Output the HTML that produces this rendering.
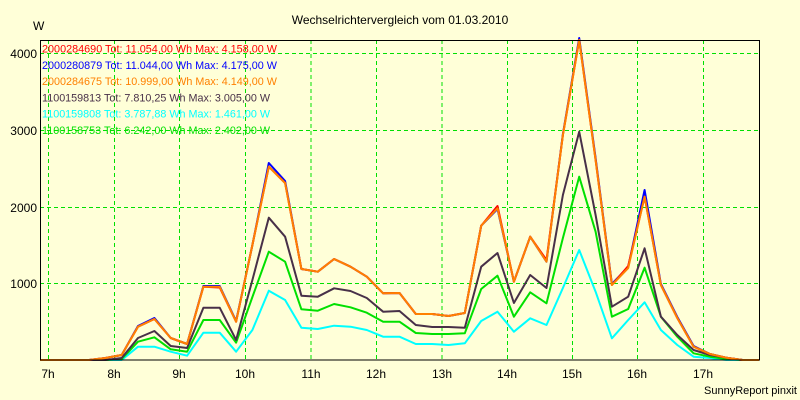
<!DOCTYPE html>
<html><head><meta charset="utf-8"><style>
html,body{margin:0;padding:0;background:#ffffd8;}
svg{display:block;font-family:"Liberation Sans",Arial,sans-serif;}
</style></head><body>
<svg width="800" height="400" viewBox="0 0 800 400" xmlns="http://www.w3.org/2000/svg">
<rect width="800" height="400" fill="#ffffd8"/>
<text x="400" y="24" font-size="12" text-anchor="middle" fill="#000">Wechselrichtervergleich vom 01.03.2010</text>
<text x="33" y="30" font-size="12" fill="#000">W</text>
<g stroke="#00e000" stroke-width="1" stroke-dasharray="4,3" fill="none">
<line x1="40" y1="53.5" x2="759" y2="53.5"/>
<line x1="40" y1="130.5" x2="759" y2="130.5"/>
<line x1="40" y1="207.5" x2="759" y2="207.5"/>
<line x1="40" y1="283.5" x2="759" y2="283.5"/>
<line x1="48.5" y1="40" x2="48.5" y2="360"/>
<line x1="114.5" y1="40" x2="114.5" y2="360"/>
<line x1="179.5" y1="40" x2="179.5" y2="360"/>
<line x1="245.5" y1="40" x2="245.5" y2="360"/>
<line x1="311" y1="40" x2="311" y2="360"/>
<line x1="376.5" y1="40" x2="376.5" y2="360"/>
<line x1="442" y1="40" x2="442" y2="360"/>
<line x1="507.5" y1="40" x2="507.5" y2="360"/>
<line x1="572.5" y1="40" x2="572.5" y2="360"/>
<line x1="637.5" y1="40" x2="637.5" y2="360"/>
<line x1="703.5" y1="40" x2="703.5" y2="360"/>
</g>
<g font-size="12" fill="#000" text-anchor="end">
<text x="37" y="58">4000</text>
<text x="37" y="135">3000</text>
<text x="37" y="212">2000</text>
<text x="37" y="288">1000</text>
</g>
<g font-size="12" fill="#000" text-anchor="middle">
<text x="48" y="378">7h</text>
<text x="114" y="378">8h</text>
<text x="179" y="378">9h</text>
<text x="245" y="378">10h</text>
<text x="311" y="378">11h</text>
<text x="376" y="378">12h</text>
<text x="442" y="378">13h</text>
<text x="507" y="378">14h</text>
<text x="572" y="378">15h</text>
<text x="637" y="378">16h</text>
<text x="703" y="378">17h</text>
</g>
<text x="797" y="394" font-size="11" text-anchor="end" fill="#000">SunnyReport pinxit</text>
<g fill="none" stroke-width="2" stroke-linejoin="round">
<polyline stroke="#00ffff" points="40,360 56.3,360 72.7,360 89,360 105.4,360 121.7,360 138,346.7 154.4,346.7 170.7,351.7 187.1,355.7 203.4,332.7 219.7,332.7 236.1,351.7 252.4,330 268.8,290.7 285.1,300 301.4,327.7 317.8,329 334.1,325.7 350.5,326.7 366.8,330 383.1,336.7 399.5,336.7 415.8,344 432.2,344 448.5,345 464.8,343.3 481.2,321 497.5,311.7 513.9,331.7 530.2,318.3 546.5,325 562.9,288 579.2,250 595.6,291.7 611.9,338.3 628.2,320 644.6,302.3 660.9,330 677.3,345 693.6,356.7 709.9,358 726.3,360 742.6,360 759,360"/>
<polyline stroke="#00e000" points="40,360 56.3,360 72.7,360 89,360 105.4,360 121.7,359 138,341.7 154.4,337.3 170.7,349.3 187.1,351.7 203.4,320 219.7,320 236.1,342.7 252.4,297 268.8,251.7 285.1,261.7 301.4,309.3 317.8,310.7 334.1,304 350.5,307.3 366.8,312.7 383.1,321.7 399.5,321.7 415.8,333 432.2,334 448.5,334 464.8,333.3 481.2,289 497.5,275.7 513.9,316.7 530.2,292.3 546.5,303.3 562.9,238 579.2,176.7 595.6,231.7 611.9,316.7 628.2,309 644.6,267.7 660.9,316.7 677.3,336.7 693.6,353.3 709.9,356.7 726.3,359 742.6,360 759,360"/>
<polyline stroke="#483048" points="40,360 56.3,360 72.7,360 89,360 105.4,360 121.7,358 138,338 154.4,331 170.7,346 187.1,348 203.4,307.7 219.7,307.7 236.1,340 252.4,280 268.8,217.7 285.1,236.7 301.4,295.7 317.8,296.7 334.1,288.3 350.5,291 366.8,298 383.1,311.7 399.5,311 415.8,325 432.2,327 448.5,327 464.8,327.7 481.2,266.7 497.5,253 513.9,303 530.2,275 546.5,288 562.9,195 579.2,131.7 595.6,215 611.9,306.7 628.2,296.7 644.6,248.3 660.9,316.7 677.3,335 693.6,350 709.9,355 726.3,357.7 742.6,360 759,360"/>
<polyline stroke="#0000ff" points="40,360 56.3,360 72.7,360 89,360 105.4,358 121.7,355 138,326 154.4,318 170.7,338 187.1,344 203.4,286 219.7,286 236.1,321 252.4,245 268.8,163 285.1,181 301.4,269 317.8,271.7 334.1,259 350.5,266.7 366.8,276.7 383.1,293.3 399.5,293 415.8,314 432.2,314 448.5,316 464.8,313 481.2,225.7 497.5,209 513.9,281.7 530.2,236.7 546.5,261.7 562.9,134 579.2,38 595.6,158 611.9,284 628.2,267 644.6,190 660.9,284 677.3,317 693.6,346 709.9,354 726.3,357.7 742.6,360 759,360"/>
<polyline stroke="#ff0000" points="40,360 56.3,360 72.7,360 89,360 105.4,358 121.7,355 138,326.7 154.4,319 170.7,338 187.1,344 203.4,286.7 219.7,287.5 236.1,321.7 252.4,245 268.8,166.7 285.1,183 301.4,269 317.8,271.7 334.1,259 350.5,266.7 366.8,276.7 383.1,293.3 399.5,293 415.8,314 432.2,314 448.5,316 464.8,313 481.2,225.7 497.5,206 513.9,281.7 530.2,236.7 546.5,260 562.9,135 579.2,40 595.6,160 611.9,285 628.2,266 644.6,196.7 660.9,285 677.3,318 693.6,346.7 709.9,354 726.3,357.7 742.6,360 759,360"/>
<polyline stroke="#ff8000" points="40,360 56.3,360 72.7,360 89,360 105.4,358 121.7,355 138,326.7 154.4,319 170.7,338 187.1,344 203.4,286.7 219.7,286.7 236.1,321.7 252.4,245 268.8,166.7 285.1,183 301.4,269 317.8,271.7 334.1,259 350.5,266.7 366.8,276.7 383.1,293.3 399.5,293 415.8,314 432.2,314 448.5,316 464.8,313 481.2,225.7 497.5,208.3 513.9,281.7 530.2,236.7 546.5,261.7 562.9,135 579.2,40 595.6,160 611.9,285 628.2,268 644.6,196.7 660.9,285 677.3,318 693.6,346.7 709.9,354 726.3,357.7 742.6,360 759,360"/>
</g>
<rect x="40.5" y="40.5" width="719" height="319.5" fill="none" stroke="#000" stroke-width="1"/>
<g font-size="11">
<text x="42" y="52.5" fill="#ff0000" textLength="235" lengthAdjust="spacingAndGlyphs">2000284690 Tot: 11.054,00 Wh Max: 4.158,00 W</text>
<text x="42" y="68.8" fill="#0000ff" textLength="235" lengthAdjust="spacingAndGlyphs">2000280879 Tot: 11.044,00 Wh Max: 4.175,00 W</text>
<text x="42" y="85" fill="#ff8000" textLength="235" lengthAdjust="spacingAndGlyphs">2000284675 Tot: 10.999,00 Wh Max: 4.149,00 W</text>
<text x="42" y="101.3" fill="#483048" textLength="228" lengthAdjust="spacingAndGlyphs">1100159813 Tot: 7.810,25 Wh Max: 3.005,00 W</text>
<text x="42" y="117.6" fill="#00ffff" textLength="228" lengthAdjust="spacingAndGlyphs">1100159808 Tot: 3.787,88 Wh Max: 1.461,00 W</text>
<text x="42" y="134" fill="#00e000" textLength="228" lengthAdjust="spacingAndGlyphs">1100158753 Tot: 6.242,00 Wh Max: 2.402,00 W</text>
</g>
</svg>
</body></html>
